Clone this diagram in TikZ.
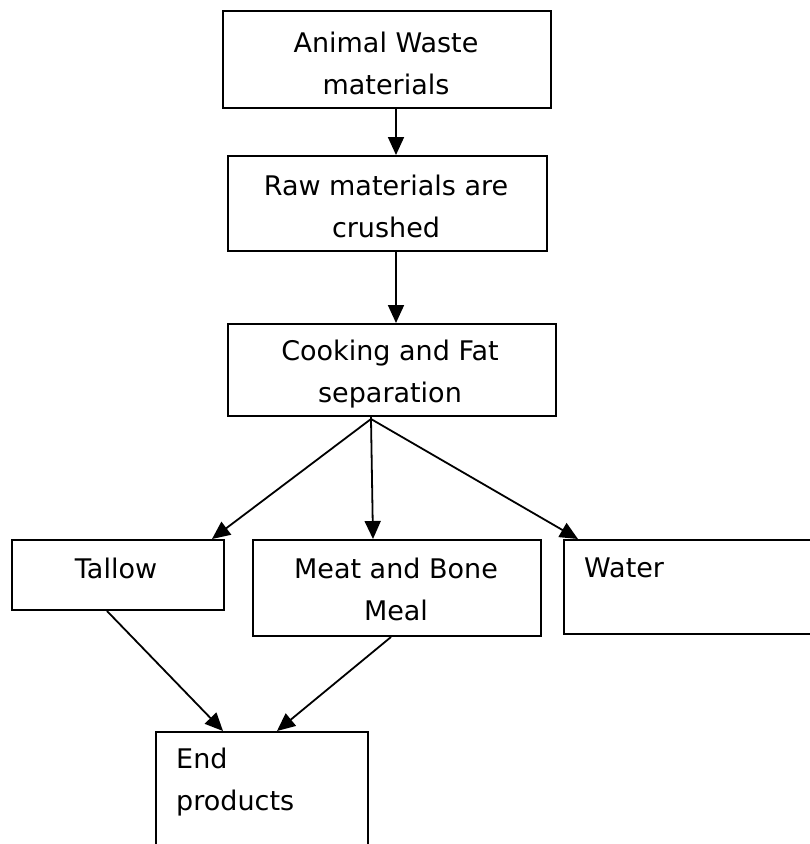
\documentclass[tikz,border=0pt]{standalone}
\usepackage{fontspec}
\setmainfont{DejaVu Sans}
\usetikzlibrary{arrows.meta,calc}
\tikzset{
  box/.style={draw, line width=2pt, rectangle, inner sep=0pt, anchor=north west},
  txt/.style={inner sep=0pt, align=center, font=\fontsize{27}{42}\selectfont},
  ltxt/.style={inner sep=0pt, align=left, anchor=west, font=\fontsize{27}{42}\selectfont},
  arr/.style={line width=1.8pt, -{Triangle[length=18pt,width=16pt]}}
}
\begin{document}
\begin{tikzpicture}[x=1pt,y=-1pt]
\useasboundingbox (0,0) rectangle (810,844);
\clip (0,0) rectangle (810,844);
% boxes
\node[box, minimum width=328pt, minimum height=97pt] (a) at (222,10) {};
\node[box, minimum width=319pt, minimum height=95pt] (r) at (227,155) {};
\node[box, minimum width=328pt, minimum height=92pt] (c) at (227,323) {};
\node[box, minimum width=212pt, minimum height=70pt] (t) at (11,539) {};
\node[box, minimum width=288pt, minimum height=96pt] (m) at (252,539) {};
\node[box, minimum width=270pt, minimum height=94pt] (w) at (563,539) {};
\node[box, minimum width=212pt, minimum height=140pt] (e) at (155,731) {};
% texts
\node[txt] (at) at (386,63) {Animal Waste\\materials};
\node[txt] (rt) at (386,206) {Raw materials are\\crushed};
\node[txt] (ct) at (390,374) {Cooking and Fat\\separation};
\node[txt] (tt) at (116,568) {Tallow};
\node[txt] (mt) at (396,589) {Meat and Bone\\Meal};
\node[ltxt] (wt) at (584,568) {Water};
\node[ltxt] (et) at (176,782) {End\\products};
% helper coordinates
\coordinate (x1) at (396,0);
\coordinate (f) at (371,419);
\coordinate (xt) at (212,0);
\coordinate (xm) at (373,0);
\coordinate (xw) at (578,0);
\coordinate (xts) at (107,0);
\coordinate (xms) at (391,0);
\coordinate (xe1) at (223,0);
\coordinate (xe2) at (277,0);
% connectors
\draw[arr] (a.south -| x1) -- (r.north -| x1);
\draw[arr] (r.south -| x1) -- (c.north -| x1);
\draw[line width=1.8pt] (c.south -| f) -- (f);
\draw[arr] (f) -- (t.north -| xt);
\draw[arr] (f) -- (m.north -| xm);
\draw[arr] (f) -- (w.north -| xw);
\draw[arr] (t.south -| xts) -- (e.north -| xe1);
\draw[arr] (m.south -| xms) -- (e.north -| xe2);
\end{tikzpicture}
\end{document}
